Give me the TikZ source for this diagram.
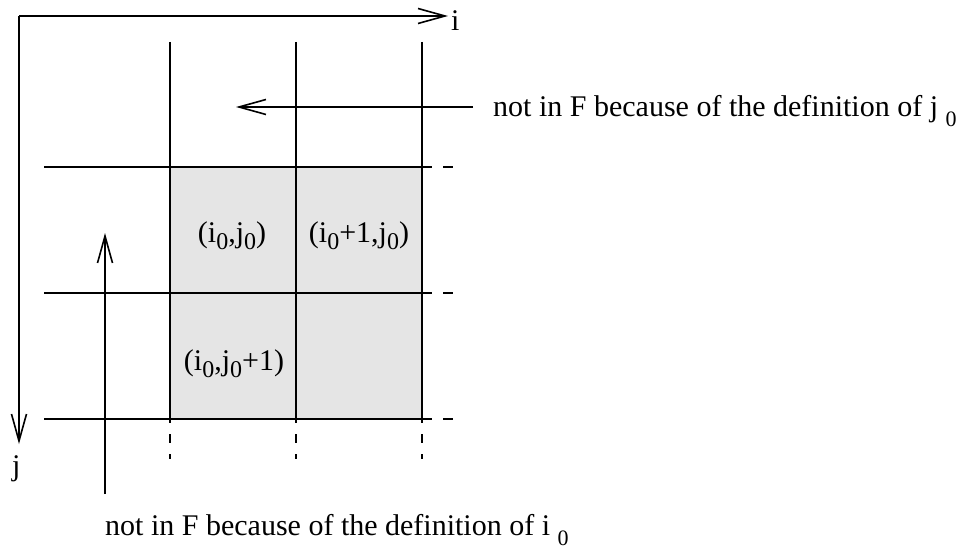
\documentclass[tikz,border=0pt]{standalone}
\usepackage{fontspec}
\setmainfont{Liberation Serif}
\usetikzlibrary{arrows.meta}
\newcommand{\lowzero}{\raisebox{-10pt}{\fontsize{22}{22}\selectfont 0}}
\newcommand{\subz}{\raisebox{-7pt}{\fontsize{24}{24}\selectfont 0}}
\begin{document}
\begin{tikzpicture}[x=1pt,y=-1pt,
  ln/.style={line width=1.6pt},
  stick/.style={ln,-{Straight Barb[length=27pt,width=15pt,line width=1.6pt]}},
  tick/.style={line width=1.3pt},
  lbl/.style={font=\fontsize{30}{30}\selectfont, inner sep=0pt, anchor=base},
  longlbl/.style={font=\fontsize{30}{30}\selectfont, inner sep=0pt, anchor=base west}]
\useasboundingbox (0,0) rectangle (971,548);
% shaded block
\fill[gray!20] (170,167) rectangle (422,419);
% coordinates
\coordinate (O) at (19,16);
\coordinate (iend) at (448,16);
\coordinate (jend) at (19,444);
% axes
\draw[stick] (O) -- (iend);
\draw[stick] (O) -- (jend);
\node[lbl, anchor=base west] (ilab) at (451,31) {i};
\node[lbl, anchor=base west] (jlab) at (12,475) {j};
% vertical grid lines
\foreach \x/\n in {170/a,296/b,422/c}{
  \coordinate (vt\n) at (\x,42);
  \coordinate (vb\n) at (\x,423);
  \draw[ln] (vt\n) -- (vb\n);
  \coordinate (dt\n) at (\x,434);
  \coordinate (db\n) at (\x,459);
  \draw[tick, dash pattern=on 9pt off 11pt] (dt\n) -- (db\n);
}
% horizontal grid lines
\foreach \y/\n in {167/a,293/b,419/c}{
  \coordinate (hl\n) at (44,\y);
  \coordinate (hr\n) at (432,\y);
  \draw[ln] (hl\n) -- (hr\n);
  \coordinate (tl\n) at (443,\y);
  \coordinate (tr\n) at (453,\y);
  \draw[tick] (tl\n) -- (tr\n);
}
% cell labels
\node[lbl] (c00) at (232,242) {(i\subz,j\subz)};
\node[lbl] (c10) at (359,242) {(i\subz+1,j\subz)};
\node[lbl] (c01) at (234,370) {(i\subz,j\subz+1)};
% arrows
\coordinate (las) at (473,107);
\coordinate (lae) at (236,107);
\draw[stick] (las) -- (lae);
\coordinate (uas) at (105,494);
\coordinate (uae) at (105,233);
\draw[stick] (uas) -- (uae);
% long texts
\node[longlbl] (tj) at (493,117) {not in F because of the definition of j \lowzero};
\node[longlbl] (ti) at (105,535) {not in F because of the definition of i \lowzero};
\end{tikzpicture}
\end{document}
